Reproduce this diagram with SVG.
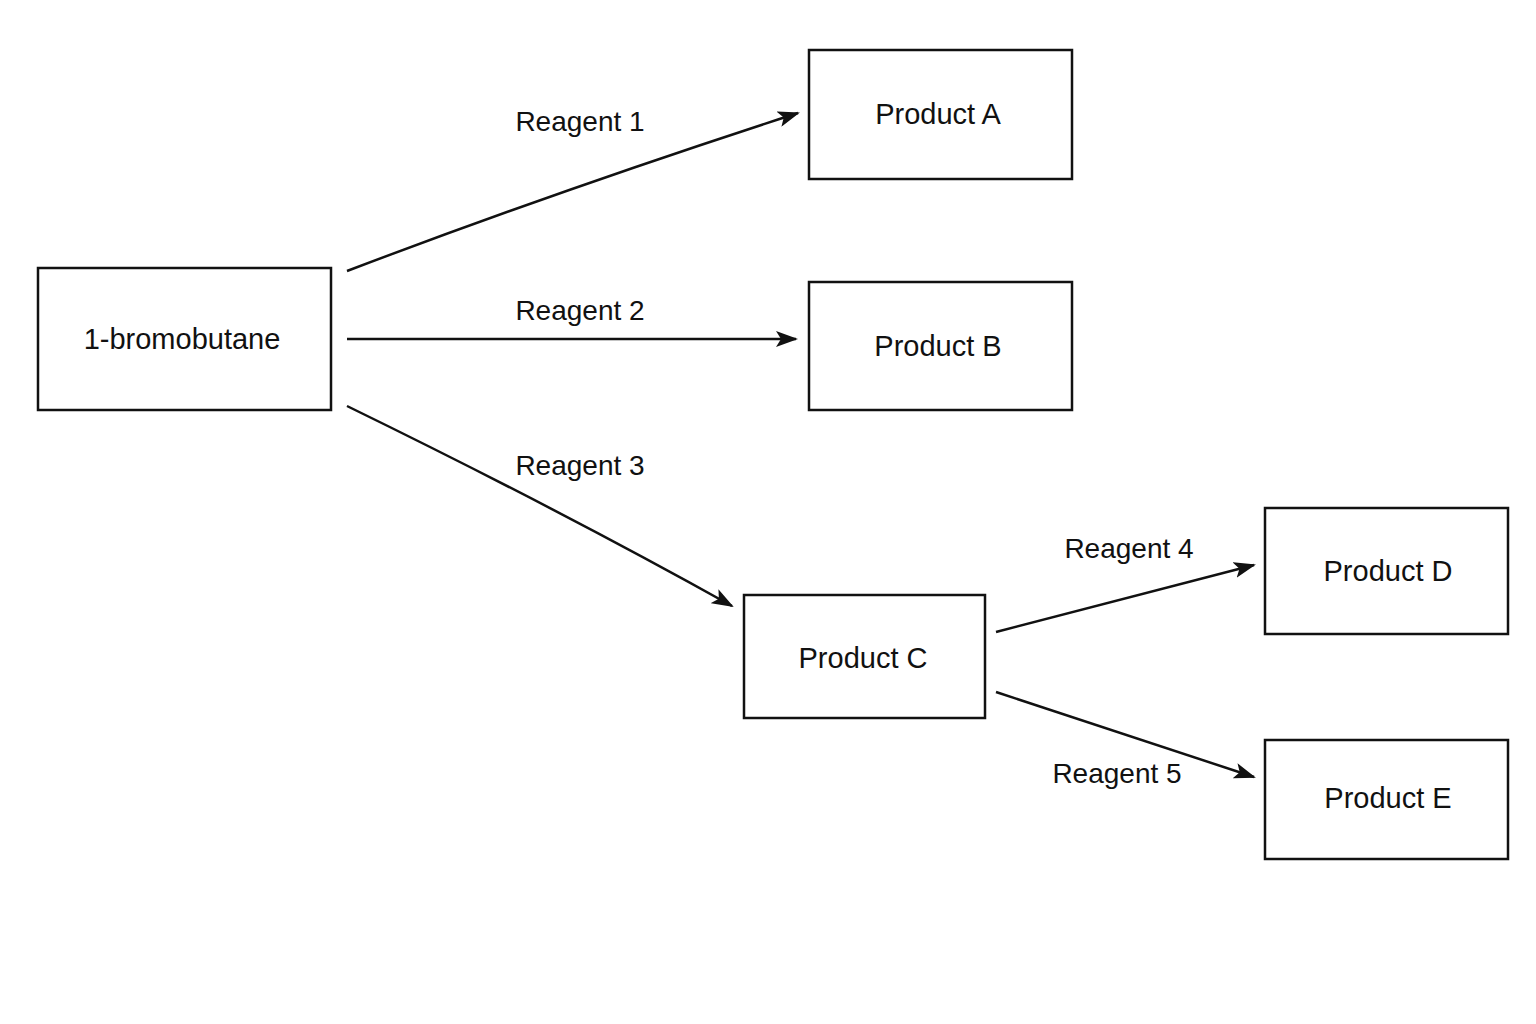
<svg xmlns="http://www.w3.org/2000/svg" width="1536" height="1024" viewBox="0 0 1536 1024">
<style>
.box{fill:#fff;stroke:#111;stroke-width:2.5}
.t{font-family:"Liberation Sans",Arial,sans-serif;font-size:29px;fill:#111;text-anchor:middle;dominant-baseline:central}
.l{font-family:"Liberation Sans",Arial,sans-serif;font-size:28px;fill:#111;text-anchor:middle;dominant-baseline:central}
.c{stroke:#111;stroke-width:2.5;fill:none;marker-end:url(#a)}
</style>
<defs><marker id="a" markerWidth="22" markerHeight="16" refX="20" refY="8" orient="auto" markerUnits="userSpaceOnUse" viewBox="0 0 22 16"><path d="M0,0L22,8L0,16L5,8Z" fill="#111"/></marker></defs>
<rect width="1536" height="1024" fill="#fff"/>
<g id="start"><rect class="box" x="38" y="268" width="293" height="142"/><text class="t" x="182" y="339">1-bromobutane</text></g>
<g id="pa"><rect class="box" x="809" y="50" width="263" height="129"/><text class="t" x="938" y="114">Product A</text></g>
<g id="pb"><rect class="box" x="809" y="282" width="263" height="128"/><text class="t" x="938" y="346">Product B</text></g>
<g id="pc"><rect class="box" x="744" y="595" width="241" height="123"/><text class="t" x="863" y="658">Product C</text></g>
<g id="pd"><rect class="box" x="1265" y="508" width="243" height="126"/><text class="t" x="1388" y="571">Product D</text></g>
<g id="pe"><rect class="box" x="1265" y="740" width="243" height="119"/><text class="t" x="1388" y="798">Product E</text></g>
<g id="connectors">
<path class="c" d="M347,271 Q560,190 798,113"/>
<path class="c" d="M347,339 L796,339"/>
<path class="c" d="M347,406 Q560,510 732,606"/>
<path class="c" d="M996,632 L1254,565"/>
<path class="c" d="M996,692 L1254,777"/>
<text class="l" x="580" y="121">Reagent 1</text>
<text class="l" x="580" y="310">Reagent 2</text>
<text class="l" x="580" y="465">Reagent 3</text>
<text class="l" x="1129" y="548">Reagent 4</text>
<text class="l" x="1117" y="773">Reagent 5</text>
</g>
</svg>
